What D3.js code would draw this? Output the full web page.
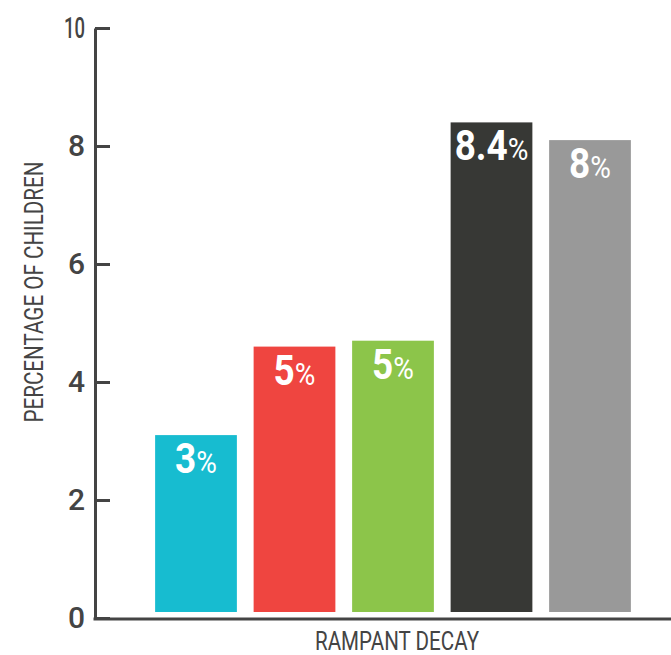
<!DOCTYPE html>
<html><head><meta charset="utf-8">
<script src="https://cdn.jsdelivr.net/npm/d3@7"></script>
<style>body{margin:0;background:#fff}</style>
</head><body>
<svg id="chart" width="671" height="655"></svg>
<script>
const categories = ["A","B","C","D","E"];
const values = [3.1, 4.6, 4.7, 8.4, 8.1];
const labels = ["3","5","5","8.4","8"];
const colors = ["#17bcd0","#ef4540","#8cc54a","#373835","#999999"];
const yTicks = [0,2,4,6,8,10];
const xTitle = "RAMPANT DECAY";
const yTitle = "PERCENTAGE OF CHILDREN";

const svg = d3.select("#chart");
const axisX = 95, plotTop = 28, plotBottom = 618;
const y = d3.scaleLinear().domain([0,10]).range([plotBottom, plotTop]);
const x = d3.scaleBand().domain(categories).range([146.75, 639.25]).paddingInner(0.17).paddingOuter(0.085);
const font = "Roboto, 'Noto Sans', sans-serif";

// bars
svg.append("g").selectAll("rect").data(categories).join("rect")
  .attr("x", d => x(d))
  .attr("width", x.bandwidth())
  .attr("y", (d,i) => y(values[i]))
  .attr("height", (d,i) => (plotBottom - 6) - y(values[i]))
  .attr("fill", (d,i) => colors[i]);

// bar labels (condensed)
const lab = svg.append("g").selectAll("text").data(categories).join("text")
  .attr("transform", (d,i) => `translate(${x(d) + x.bandwidth()/2},${y(values[i]) + 38}) scale(0.88,1)`)
  .attr("text-anchor", "middle")
  .attr("fill", "#fff")
  .style("font-family", font);
lab.append("tspan").text((d,i) => labels[i]).style("font-size","42px").style("font-weight","700");
lab.append("tspan").text("%").style("font-size","32px").style("font-weight","400");

// y axis
const ax = svg.append("g").attr("transform", `translate(${axisX},0)`)
  .call(d3.axisLeft(y).tickValues(yTicks).tickSize(-15).tickSizeOuter(0).tickPadding(10));
ax.select(".domain").attr("stroke", "#444").attr("stroke-width", 3);
ax.selectAll(".tick line").attr("stroke", "#444").attr("stroke-width", 3);
ax.selectAll(".tick text").attr("fill", "#444").style("font-family", font)
  .style("font-size", "30px").style("font-weight", "500")
  .each(function(d) {
    const s = String(d);
    if (s.length > 1) d3.select(this).attr("textLength", 21).attr("lengthAdjust", "spacingAndGlyphs");
  });

// x axis line
svg.append("line").attr("x1", axisX - 1.5).attr("x2", 671).attr("y1", plotBottom + 1).attr("y2", plotBottom + 1)
  .attr("stroke", "#444").attr("stroke-width", 3);

// titles
svg.append("text").text(xTitle)
  .attr("x", 397).attr("y", 650).attr("text-anchor", "middle")
  .attr("textLength", 164).attr("lengthAdjust", "spacingAndGlyphs")
  .attr("fill", "#444").style("font-family", font).style("font-size", "25px");
svg.append("text").text(yTitle)
  .attr("transform", "translate(43,292) rotate(-90)").attr("text-anchor", "middle")
  .attr("textLength", 261).attr("lengthAdjust", "spacingAndGlyphs")
  .attr("fill", "#444").style("font-family", font).style("font-size", "26px");
</script>
</body></html>
